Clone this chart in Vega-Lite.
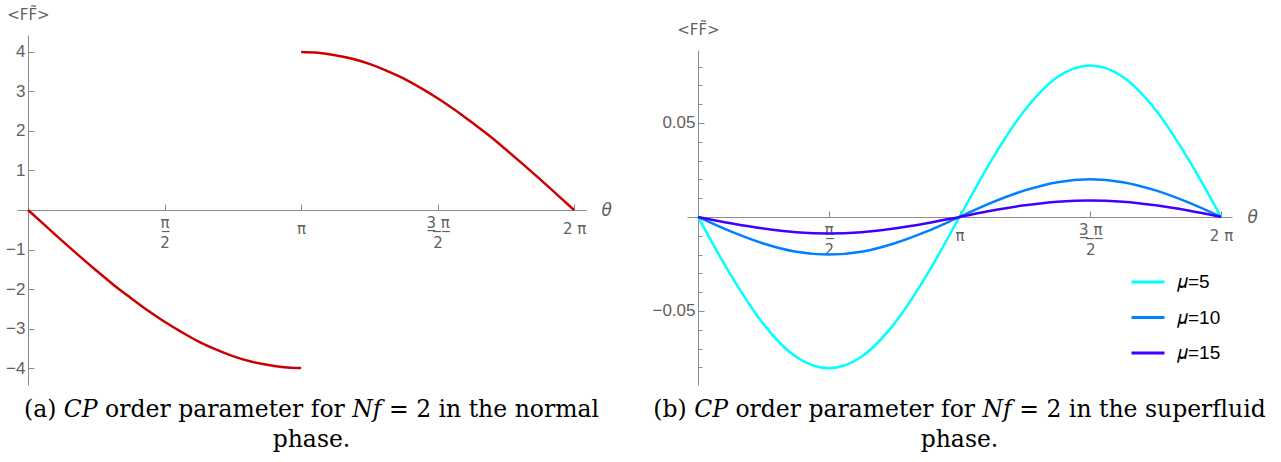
{
  "$schema": "https://vega.github.io/schema/vega-lite/v6.json",
  "autosize": {"type": "pad"},
  "padding": {"left": 5, "top": 7, "right": 5, "bottom": 5},
  "background": "white",
  "bounds": "flush",
  "spacing": 101,
  "datasets": {
    "normal": [
      {"t": 0, "v": 0, "seg": "n"}, {"t": 0.196, "v": -0.39, "seg": "n"}, {"t": 0.393, "v": -0.78, "seg": "n"}, {"t": 0.589, "v": -1.16, "seg": "n"},
      {"t": 0.785, "v": -1.53, "seg": "n"}, {"t": 0.982, "v": -1.89, "seg": "n"}, {"t": 1.178, "v": -2.22, "seg": "n"}, {"t": 1.374, "v": -2.54, "seg": "n"},
      {"t": 1.571, "v": -2.83, "seg": "n"}, {"t": 1.767, "v": -3.09, "seg": "n"}, {"t": 1.963, "v": -3.33, "seg": "n"}, {"t": 2.16, "v": -3.53, "seg": "n"},
      {"t": 2.356, "v": -3.7, "seg": "n"}, {"t": 2.553, "v": -3.83, "seg": "n"}, {"t": 2.749, "v": -3.92, "seg": "n"}, {"t": 2.945, "v": -3.98, "seg": "n"},
      {"t": 3.142, "v": -4.0, "seg": "n"},
      {"t": 3.142, "v": 4.0, "seg": "p"}, {"t": 3.338, "v": 3.98, "seg": "p"}, {"t": 3.534, "v": 3.92, "seg": "p"}, {"t": 3.731, "v": 3.83, "seg": "p"},
      {"t": 3.927, "v": 3.7, "seg": "p"}, {"t": 4.123, "v": 3.53, "seg": "p"}, {"t": 4.32, "v": 3.33, "seg": "p"}, {"t": 4.516, "v": 3.09, "seg": "p"},
      {"t": 4.712, "v": 2.83, "seg": "p"}, {"t": 4.909, "v": 2.54, "seg": "p"}, {"t": 5.105, "v": 2.22, "seg": "p"}, {"t": 5.301, "v": 1.89, "seg": "p"},
      {"t": 5.498, "v": 1.53, "seg": "p"}, {"t": 5.694, "v": 1.16, "seg": "p"}, {"t": 5.89, "v": 0.78, "seg": "p"}, {"t": 6.087, "v": 0.39, "seg": "p"},
      {"t": 6.283, "v": 0, "seg": "p"}
    ],
    "superfluid": [
      {"t": 0, "v": 0, "mu": "𝜇=5"}, {"t": 0.393, "v": -0.0308, "mu": "𝜇=5"}, {"t": 0.785, "v": -0.0569, "mu": "𝜇=5"}, {"t": 1.178, "v": -0.0744, "mu": "𝜇=5"},
      {"t": 1.571, "v": -0.0805, "mu": "𝜇=5"}, {"t": 1.963, "v": -0.0744, "mu": "𝜇=5"}, {"t": 2.356, "v": -0.0569, "mu": "𝜇=5"}, {"t": 2.749, "v": -0.0308, "mu": "𝜇=5"},
      {"t": 3.142, "v": 0, "mu": "𝜇=5"}, {"t": 3.534, "v": 0.0308, "mu": "𝜇=5"}, {"t": 3.927, "v": 0.0569, "mu": "𝜇=5"}, {"t": 4.32, "v": 0.0744, "mu": "𝜇=5"},
      {"t": 4.712, "v": 0.0805, "mu": "𝜇=5"}, {"t": 5.105, "v": 0.0744, "mu": "𝜇=5"}, {"t": 5.498, "v": 0.0569, "mu": "𝜇=5"}, {"t": 5.89, "v": 0.0308, "mu": "𝜇=5"},
      {"t": 6.283, "v": 0, "mu": "𝜇=5"},
      {"t": 0, "v": 0, "mu": "𝜇=10"}, {"t": 0.393, "v": -0.0077, "mu": "𝜇=10"}, {"t": 0.785, "v": -0.0141, "mu": "𝜇=10"}, {"t": 1.178, "v": -0.0185, "mu": "𝜇=10"},
      {"t": 1.571, "v": -0.02, "mu": "𝜇=10"}, {"t": 1.963, "v": -0.0185, "mu": "𝜇=10"}, {"t": 2.356, "v": -0.0141, "mu": "𝜇=10"}, {"t": 2.749, "v": -0.0077, "mu": "𝜇=10"},
      {"t": 3.142, "v": 0, "mu": "𝜇=10"}, {"t": 3.534, "v": 0.0077, "mu": "𝜇=10"}, {"t": 3.927, "v": 0.0141, "mu": "𝜇=10"}, {"t": 4.32, "v": 0.0185, "mu": "𝜇=10"},
      {"t": 4.712, "v": 0.02, "mu": "𝜇=10"}, {"t": 5.105, "v": 0.0185, "mu": "𝜇=10"}, {"t": 5.498, "v": 0.0141, "mu": "𝜇=10"}, {"t": 5.89, "v": 0.0077, "mu": "𝜇=10"},
      {"t": 6.283, "v": 0, "mu": "𝜇=10"},
      {"t": 0, "v": 0, "mu": "𝜇=15"}, {"t": 0.393, "v": -0.0034, "mu": "𝜇=15"}, {"t": 0.785, "v": -0.0062, "mu": "𝜇=15"}, {"t": 1.178, "v": -0.0081, "mu": "𝜇=15"},
      {"t": 1.571, "v": -0.0088, "mu": "𝜇=15"}, {"t": 1.963, "v": -0.0081, "mu": "𝜇=15"}, {"t": 2.356, "v": -0.0062, "mu": "𝜇=15"}, {"t": 2.749, "v": -0.0034, "mu": "𝜇=15"},
      {"t": 3.142, "v": 0, "mu": "𝜇=15"}, {"t": 3.534, "v": 0.0034, "mu": "𝜇=15"}, {"t": 3.927, "v": 0.0062, "mu": "𝜇=15"}, {"t": 4.32, "v": 0.0081, "mu": "𝜇=15"},
      {"t": 4.712, "v": 0.0088, "mu": "𝜇=15"}, {"t": 5.105, "v": 0.0081, "mu": "𝜇=15"}, {"t": 5.498, "v": 0.0062, "mu": "𝜇=15"}, {"t": 5.89, "v": 0.0034, "mu": "𝜇=15"},
      {"t": 6.283, "v": 0, "mu": "𝜇=15"}
    ]
  },
  "config": {
    "view": {"stroke": null},
    "axis": {
      "domainColor": "#8c8c8c", "tickColor": "#8c8c8c", "domainWidth": 1, "tickWidth": 1,
      "labelColor": "#5f5f5f", "labelFont": "Liberation Sans", "labelFontSize": 17,
      "titleColor": "#5f5f5f", "titleFont": "DejaVu Sans", "titleFontWeight": "normal",
      "grid": false, "labelFlush": false, "labelOverlap": false
    },
    "axisX": {"labelFont": "DejaVu Sans", "labelFontSize": 15},
    "title": {"font": "DejaVu Serif", "fontSize": 23.5, "fontWeight": "normal", "color": "#000000", "lineHeight": 30, "anchor": "middle"}
  },
  "hconcat": [
    {
      "width": 569,
      "height": 350,
      "title": {"text": ["(a) 𝐶𝑃 order parameter for 𝑁𝑓 = 2 in the normal", "phase."], "orient": "bottom", "offset": 13, "dx": 10},
      "data": {"name": "normal"},
      "mark": {"type": "line", "color": "#cc0000", "strokeWidth": 2.5, "interpolate": "monotone"},
      "encoding": {
        "x": {
          "field": "t", "type": "quantitative",
          "scale": {"domain": [-0.127, 6.42], "nice": false, "zero": false},
          "axis": {
            "orient": "bottom", "offset": -175,
            "values": [1.5708, 3.1416, 4.7124, 6.2832],
            "labelExpr": "datum.value < 2 ? ['\u03c0\u0332', '2'] : datum.value < 4 ? '\u03c0' : datum.value < 5 ? ['3\u0332 \u0332\u03c0\u0332', '2'] : '2 \u03c0'",
            "labelBaseline": "middle", "labelLineHeight": 20,
            "labelPadding": {"condition": {"test": "datum.value < 2 || (datum.value > 4 && datum.value < 5)", "value": 18}, "value": 24},
            "tickSize": -6,
            "title": "θ", "titleFontStyle": "italic", "titleFontSize": 17,
            "titleX": 584, "titleY": 0, "titleAlign": "left", "titleBaseline": "middle"
          }
        },
        "y": {
          "field": "v", "type": "quantitative",
          "scale": {"domain": [-4.43, 4.43], "nice": false, "zero": false},
          "axis": {
            "orient": "left", "offset": -11,
            "values": [-4, -3, -2, -1, 1, 2, 3, 4],
            "tickSize": -6, "labelPadding": 9,
            "title": "<FF\u0303>", "titleAngle": 0, "titleFontSize": 15,
            "titleX": 0, "titleY": -21, "titleAlign": "center", "titleBaseline": "middle"
          }
        },
        "detail": {"field": "seg"}
      }
    },
    {
      "width": 545,
      "height": 350,
      "title": {"text": ["(b) 𝐶𝑃 order parameter for 𝑁𝑓 = 2 in the superfluid", "phase."], "orient": "bottom", "offset": 13},
      "data": {"name": "superfluid"},
      "mark": {"type": "line", "strokeWidth": 2.5, "interpolate": "monotone"},
      "encoding": {
        "x": {
          "field": "t", "type": "quantitative",
          "scale": {"domain": [-0.132, 6.415], "nice": false, "zero": false},
          "axis": {
            "orient": "bottom", "offset": -168,
            "values": [1.5708, 3.1416, 4.7124, 6.2832],
            "labelExpr": "datum.value < 2 ? ['\u03c0\u0332', '2'] : datum.value < 4 ? '\u03c0' : datum.value < 5 ? ['3\u0332 \u0332\u03c0\u0332', '2'] : '2 \u03c0'",
            "labelBaseline": "middle", "labelLineHeight": 20,
            "labelPadding": {"condition": {"test": "datum.value < 2 || (datum.value > 4 && datum.value < 5)", "value": 18}, "value": 24},
            "tickSize": -6,
            "title": "θ", "titleFontStyle": "italic", "titleFontSize": 17,
            "titleX": 560, "titleY": 0, "titleAlign": "left", "titleBaseline": "middle"
          }
        },
        "y": {
          "field": "v", "type": "quantitative",
          "scale": {"domain": [-0.0894, 0.0888], "range": [350, 15], "nice": false, "zero": false},
          "axis": {
            "orient": "left", "offset": -11, "format": ".2f",
            "values": [-0.08, -0.07, -0.06, -0.05, -0.04, -0.03, -0.02, -0.01, 0.01, 0.02, 0.03, 0.04, 0.05, 0.06, 0.07, 0.08],
            "labelExpr": "abs(datum.value) > 0.045 && abs(datum.value) < 0.055 ? datum.label : ''",
            "tickSize": {"condition": {"test": "abs(datum.value) > 0.045 && abs(datum.value) < 0.055", "value": -6}, "value": -4},
            "labelPadding": 9,
            "title": "<FF\u0303>", "titleAngle": 0, "titleFontSize": 15,
            "titleX": 0, "titleY": -6, "titleAlign": "center", "titleBaseline": "middle"
          }
        },
        "color": {
          "field": "mu", "type": "nominal",
          "scale": {"domain": ["𝜇=5", "𝜇=10", "𝜇=15"], "range": ["#00ffff", "#0080ff", "#4000ff"]},
          "legend": {
            "orient": "none", "legendX": 1113, "legendY": 229, "title": null,
            "symbolType": "stroke", "symbolSize": 1089, "symbolStrokeWidth": 3,
            "labelFont": "Liberation Sans", "labelFontSize": 19, "labelColor": "#000000",
            "labelOffset": 11, "rowPadding": 7.5, "padding": 0
          }
        }
      }
    }
  ]
}
